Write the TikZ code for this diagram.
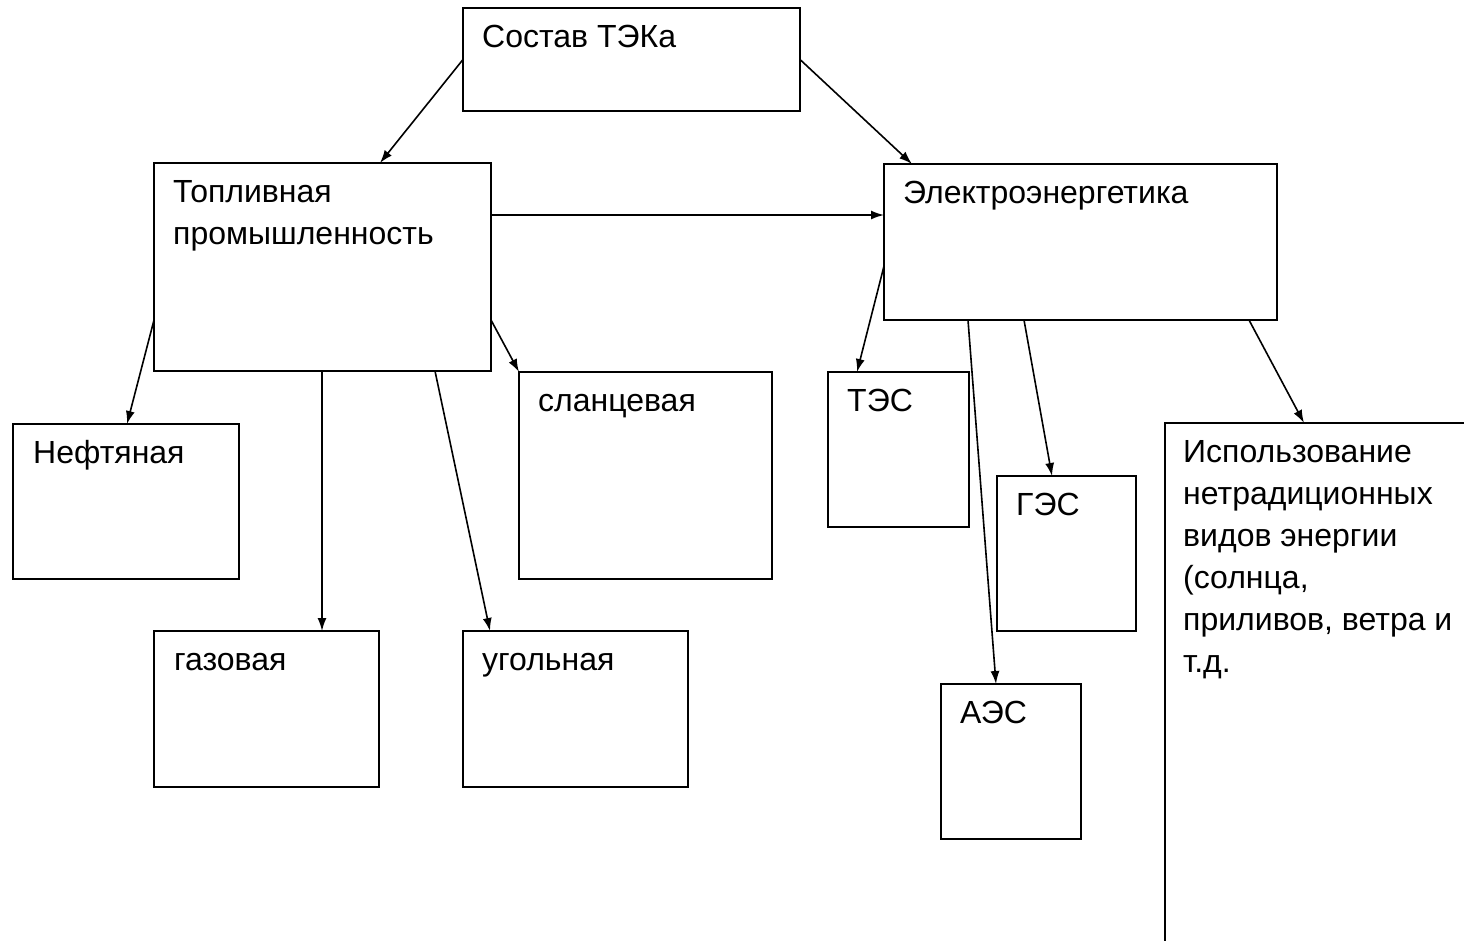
\documentclass[tikz,border=0pt]{standalone}
\usepackage{fontspec}
\setmainfont{Liberation Sans}
\usetikzlibrary{arrows.meta,calc}
\newcommand{\mylines}[1]{\parbox[t]{400pt}{\raggedright #1}}
\begin{document}
\begin{tikzpicture}[x=1pt,y=-1pt,
  box/.style={draw,line width=2pt,inner sep=0pt,outer sep=0pt,anchor=north west},
  txt/.style={anchor=base west,inner sep=0pt,font=\fontsize{32}{42}\selectfont},
  arr/.style={line width=1.6pt,-{Latex[length=13pt,width=9pt]}}]
\useasboundingbox (0,0) rectangle (1464,940);
\clip (0,0) rectangle (1464,940);
\node[box,minimum width=337pt,minimum height=103pt] (tek) at (463,8) {};
\node[box,minimum width=337pt,minimum height=208pt] (fuel) at (154,163) {};
\node[box,minimum width=393pt,minimum height=156pt] (elec) at (884,164) {};
\node[box,minimum width=226pt,minimum height=155pt] (nef) at (13,424) {};
\node[box,minimum width=225pt,minimum height=156pt] (gas) at (154,631) {};
\node[box,minimum width=225pt,minimum height=156pt] (coal) at (463,631) {};
\node[box,minimum width=253pt,minimum height=207pt] (slate) at (519,372) {};
\node[box,minimum width=141pt,minimum height=155pt] (tes) at (828,372) {};
\node[box,minimum width=139pt,minimum height=155pt] (ges) at (997,476) {};
\node[box,minimum width=140pt,minimum height=155pt] (aes) at (941,684) {};
\node[box,minimum width=400pt,minimum height=600pt] (alt) at (1165,423) {};

\node[txt] (ttek) at ([shift={(19,39)}]tek.north west) {Состав ТЭКа};
\node[txt] (tfuel) at ([shift={(19,39)}]fuel.north west) {\mylines{Топливная\\промышленность}};
\node[txt] (telec) at ([shift={(19,39)}]elec.north west) {Электроэнергетика};
\node[txt] (tnef) at ([shift={(20,39)}]nef.north west) {Нефтяная};
\node[txt] (tgas) at ([shift={(20,39)}]gas.north west) {газовая};
\node[txt] (tcoal) at ([shift={(19,39)}]coal.north west) {угольная};
\node[txt] (tslate) at ([shift={(19,39)}]slate.north west) {сланцевая};
\node[txt] (ttes) at ([shift={(19,39)}]tes.north west) {ТЭС};
\node[txt] (tges) at ([shift={(19,39)}]ges.north west) {ГЭС};
\node[txt] (taes) at ([shift={(19,39)}]aes.north west) {АЭС};
\node[txt] (talt) at ([shift={(18,39)}]alt.north west) {\mylines{Использование\\нетрадиционных\\видов энергии\\(солнца,\\приливов, ветра и\\т.д.}};

\draw[arr] (tek.west) -- ([shift={(226,0)}]fuel.north west);
\draw[arr] (tek.east) -- ([shift={(28,0)}]elec.north west);
\draw[arr] ([shift={(0,52)}]fuel.north east) -- ([shift={(0,51)}]elec.north west);
\draw[arr] ([shift={(0,157)}]fuel.north west) -- ([shift={(114,0)}]nef.north west);
\draw[arr] ([shift={(168,0)}]fuel.south west) -- ([shift={(168,0)}]gas.north west);
\draw[arr] ([shift={(281,0)}]fuel.south west) -- ([shift={(27,0)}]coal.north west);
\draw[arr] ([shift={(0,157)}]fuel.north east) -- (slate.north west);
\draw[arr] ([shift={(0,102)}]elec.north west) -- ([shift={(29,0)}]tes.north west);
\draw[arr] ([shift={(84,0)}]elec.south west) -- ([shift={(55,0)}]aes.north west);
\draw[arr] ([shift={(140,0)}]elec.south west) -- ([shift={(55,0)}]ges.north west);
\draw[arr] ([shift={(365,0)}]elec.south west) -- ([shift={(139,0)}]alt.north west);
\end{tikzpicture}
\end{document}
